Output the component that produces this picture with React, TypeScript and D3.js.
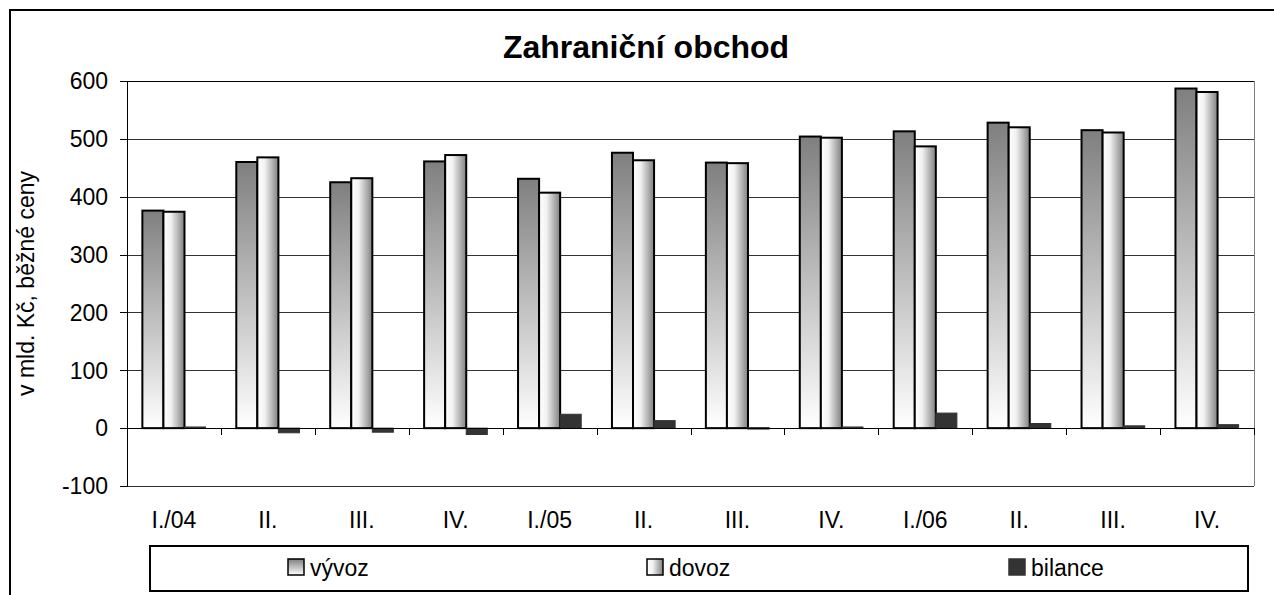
import React, { useEffect, useRef } from 'react';
import * as d3 from 'd3';

const categories = ['I./04', 'II.', 'III.', 'IV.', 'I./05', 'II.', 'III.', 'IV.', 'I./06', 'II.', 'III.', 'IV.'];
const vyvoz = [376, 460, 425, 461, 431, 476, 459, 504, 513, 528, 515, 587];
const dovoz = [374, 468, 432, 472, 407, 463, 458, 502, 487, 520, 511, 581];
const bilance = [2, -8, -7, -11, 24, 13, 1, 2, 26, 8, 4, 6];
const yTicks = [-100, 0, 100, 200, 300, 400, 500, 600];
const seriesNames = ['vývoz', 'dovoz', 'bilance'];

const W = 1274;
const H = 595;

export default function App() {
  const svgRef = useRef<SVGSVGElement>(null);

  useEffect(() => {
    if (!svgRef.current) return;
    const svg = d3.select(svgRef.current);
    svg.selectAll('*').remove();

    const font = 'Arial, "Liberation Sans", sans-serif';
    const fs = 23;
    const plot = { left: 127, right: 1254, top: 81, bottom: 486 };

    const defs = svg.append('defs');
    const gV = defs.append('linearGradient').attr('id', 'gradVyvoz')
      .attr('x1', 0).attr('y1', 0).attr('x2', 0).attr('y2', 1);
    gV.append('stop').attr('offset', '0%').attr('stop-color', '#7f7f7f');
    gV.append('stop').attr('offset', '100%').attr('stop-color', '#ffffff');
    const gD = defs.append('linearGradient').attr('id', 'gradDovoz')
      .attr('x1', 0).attr('y1', 0).attr('x2', 1).attr('y2', 0);
    gD.append('stop').attr('offset', '0%').attr('stop-color', '#ffffff');
    gD.append('stop').attr('offset', '35%').attr('stop-color', '#f2f2f2');
    gD.append('stop').attr('offset', '100%').attr('stop-color', '#808080');

    // background + outer frame
    svg.append('rect').attr('x', 0).attr('y', 0).attr('width', W).attr('height', H).attr('fill', '#fff');
    svg.append('path')
      .attr('d', `M10,${H + 5} L10,10 L${W + 5},10`)
      .attr('fill', 'none').attr('stroke', '#000').attr('stroke-width', 2);

    const x = d3.scaleBand<number>()
      .domain(categories.map((_, i) => i))
      .range([plot.left, plot.right])
      .padding(0);
    const xInner = d3.scaleBand<string>()
      .domain(seriesNames)
      .range([0, x.bandwidth()])
      .paddingInner(0)
      .paddingOuter(0.73);
    const y = d3.scaleLinear().domain([-100, 600]).range([plot.bottom, plot.top]);

    // grid lines
    svg.append('g').selectAll('line')
      .data(yTicks)
      .enter().append('line')
      .attr('x1', plot.left).attr('x2', plot.right)
      .attr('y1', d => Math.round(y(d)) + 0.5).attr('y2', d => Math.round(y(d)) + 0.5)
      .attr('stroke', d => (d === 600 ? '#000' : '#333'))
      .attr('stroke-width', 1);

    // right border of plot
    svg.append('line')
      .attr('x1', plot.right + 0.5).attr('x2', plot.right + 0.5)
      .attr('y1', plot.top).attr('y2', plot.bottom)
      .attr('stroke', '#808080');

    // y axis
    const yAxis = svg.append('g');
    yAxis.append('line')
      .attr('x1', plot.left + 0.5).attr('x2', plot.left + 0.5)
      .attr('y1', plot.top).attr('y2', plot.bottom + 0.5)
      .attr('stroke', '#000');
    yAxis.selectAll('.tick')
      .data(yTicks)
      .enter().append('line')
      .attr('x1', plot.left - 7).attr('x2', plot.left)
      .attr('y1', d => Math.round(y(d)) + 0.5).attr('y2', d => Math.round(y(d)) + 0.5)
      .attr('stroke', '#000');
    yAxis.selectAll('text')
      .data(yTicks)
      .enter().append('text')
      .attr('x', 108)
      .attr('y', d => y(d))
      .attr('dy', '0.36em')
      .attr('text-anchor', 'end')
      .attr('font-family', font)
      .attr('font-size', fs)
      .text(d => d);

    svg.append('text')
      .attr('transform', `translate(34,${(plot.top + plot.bottom) / 2}) rotate(-90)`)
      .attr('text-anchor', 'middle')
      .attr('font-family', font)
      .attr('font-size', fs)
      .text('v mld. Kč, běžné ceny');

    // bars
    const bars = svg.append('g');
    const y0 = y(0);
    categories.forEach((_, i) => {
      const gx = x(i) || 0;
      const w = xInner.bandwidth();
      bars.append('rect')
        .attr('x', gx + (xInner('vývoz') || 0))
        .attr('y', y(vyvoz[i]))
        .attr('width', w)
        .attr('height', y0 - y(vyvoz[i]))
        .attr('fill', 'url(#gradVyvoz)')
        .attr('stroke', '#000').attr('stroke-width', 2);
      bars.append('rect')
        .attr('x', gx + (xInner('dovoz') || 0))
        .attr('y', y(dovoz[i]))
        .attr('width', w)
        .attr('height', y0 - y(dovoz[i]))
        .attr('fill', 'url(#gradDovoz)')
        .attr('stroke', '#000').attr('stroke-width', 2);
      const b = bilance[i];
      bars.append('rect')
        .attr('x', gx + (xInner('bilance') || 0))
        .attr('y', Math.min(y(b), y0))
        .attr('width', w)
        .attr('height', Math.max(Math.abs(y0 - y(b)), 1.5))
        .attr('fill', '#333333')
        .attr('stroke', '#333333').attr('stroke-width', 1);
    });

    // category axis at zero
    const xAxis = svg.append('g');
    xAxis.append('line')
      .attr('x1', plot.left).attr('x2', plot.right)
      .attr('y1', Math.round(y0) + 0.5).attr('y2', Math.round(y0) + 0.5)
      .attr('stroke', '#000');
    xAxis.selectAll('.tick')
      .data(categories.map((_, i) => i).concat([categories.length]))
      .enter().append('line')
      .attr('x1', d => Math.round(plot.left + d * x.step()) + 0.5)
      .attr('x2', d => Math.round(plot.left + d * x.step()) + 0.5)
      .attr('y1', Math.round(y0)).attr('y2', Math.round(y0) + 7)
      .attr('stroke', '#000');
    xAxis.selectAll('text')
      .data(categories)
      .enter().append('text')
      .attr('x', (_, i) => (x(i) || 0) + x.bandwidth() / 2)
      .attr('y', 528)
      .attr('text-anchor', 'middle')
      .attr('font-family', font)
      .attr('font-size', fs)
      .text(d => d);

    // title
    svg.append('text')
      .attr('x', 646).attr('y', 58)
      .attr('text-anchor', 'middle')
      .attr('font-family', font)
      .attr('font-size', 32)
      .attr('font-weight', 'bold')
      .text('Zahraniční obchod');

    // legend
    const legend = svg.append('g');
    legend.append('rect')
      .attr('x', 150).attr('y', 546).attr('width', 1098).attr('height', 45)
      .attr('fill', '#fff').attr('stroke', '#000').attr('stroke-width', 2);
    const legendX = [288, 647, 1009];
    const legendFill = ['url(#gradVyvoz)', 'url(#gradDovoz)', '#333333'];
    seriesNames.forEach((name, i) => {
      legend.append('rect')
        .attr('x', legendX[i]).attr('y', 559).attr('width', 16).attr('height', 16)
        .attr('fill', legendFill[i])
        .attr('stroke', i < 2 ? '#000' : '#333').attr('stroke-width', 1.5);
      legend.append('text')
        .attr('x', legendX[i] + 22).attr('y', 576)
        .attr('font-family', font)
        .attr('font-size', fs)
        .text(name);
    });
  }, []);

  return (
    <svg
      ref={svgRef}
      width={W}
      height={H}
      style={{ position: 'absolute', left: 0, top: 0, display: 'block' }}
    />
  );
}
